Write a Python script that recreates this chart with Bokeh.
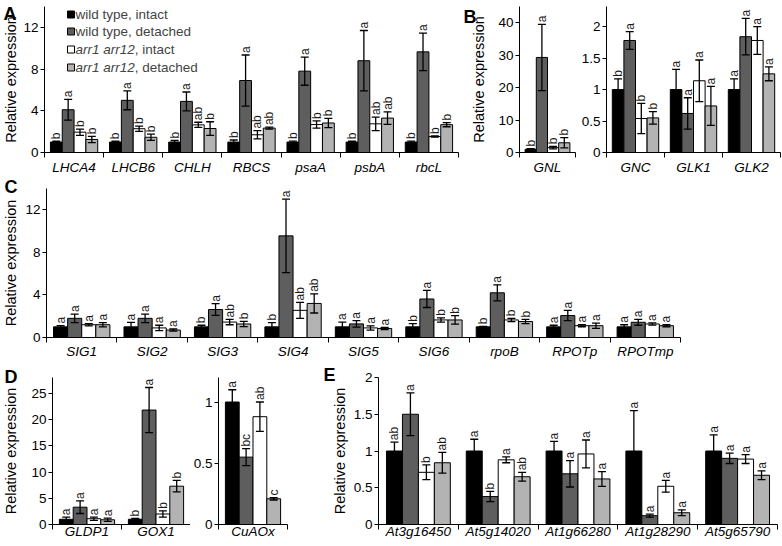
import math
from bokeh.plotting import figure
from bokeh.models import (Range1d, FixedTicker, NumeralTickFormatter, Whisker, TeeHead,
                          ColumnDataSource, Label, BoxAnnotation)
from bokeh.layouts import row, column
from bokeh.embed import file_html
from bokeh.resources import INLINE
from bokeh.core.properties import value

# ---------------- data ----------------
SERIES = ["wild type, intact", "wild type, detached", "arr1 arr12, intact", "arr1 arr12, detached"]

# Panel A
A_genes = ["LHCA4", "LHCB6", "CHLH", "RBCS", "psaA", "psbA", "rbcL"]
A_wt_int = [1.0, 1.0, 1.0, 1.0, 1.0, 1.0, 1.0]
A_wt_int_err = [0.08, 0.08, 0.15, 0.2, 0.1, 0.08, 0.1]
A_wt_det = [4.1, 5.0, 4.9, 6.9, 7.8, 8.8, 9.65]
A_wt_det_err = [1.0, 0.9, 0.9, 2.45, 1.35, 2.9, 1.8]
A_arr_int = [1.95, 2.28, 2.65, 1.7, 2.68, 2.75, 1.53]
A_arr_int_err = [0.3, 0.25, 0.25, 0.4, 0.35, 0.65, 0.05]
A_arr_det = [1.25, 1.46, 2.3, 2.34, 2.83, 3.3, 2.67]
A_arr_det_err = [0.3, 0.3, 0.65, 0.1, 0.45, 0.6, 0.2]
A_sig_wt_int = ["b"] * 7
A_sig_wt_det = ["a"] * 7
A_sig_arr_int = ["b", "b", "ab", "ab", "b", "ab", "b"]
A_sig_arr_det = ["b", "b", "b", "ab", "b", "ab", "b"]

# Panel B (left)
B1_genes = ["GNL"]
B1_wt_int, B1_wt_int_err = [1.0], [0.2]
B1_wt_det, B1_wt_det_err = [29.3], [10.2]
B1_arr_int, B1_arr_int_err = [1.5], [0.4]
B1_arr_det, B1_arr_det_err = [3.0], [1.6]
B1_sig = [["b"], ["a"], ["b"], ["b"]]

# Panel B (right)
B2_genes = ["GNC", "GLK1", "GLK2"]
B2_wt_int, B2_wt_int_err = [1.0, 1.0, 1.0], [0.17, 0.32, 0.17]
B2_wt_det, B2_wt_det_err = [1.78, 0.62, 1.84], [0.14, 0.25, 0.29]
B2_arr_int, B2_arr_int_err = [0.54, 1.14, 1.78], [0.24, 0.33, 0.22]
B2_arr_det, B2_arr_det_err = [0.55, 0.74, 1.25], [0.1, 0.31, 0.11]
B2_sig = [["b", "a", "a"], ["a", "a", "a"], ["b", "a", "a"], ["b", "a", "a"]]

# Panel C
C_genes = ["SIG1", "SIG2", "SIG3", "SIG4", "SIG5", "SIG6", "rpoB", "RPOTp", "RPOTmp"]
C_wt_int = [1.0] * 9
C_wt_int_err = [0.12, 0.42, 0.15, 0.4, 0.45, 0.3, 0.05, 0.15, 0.2]
C_wt_det = [1.8, 1.8, 2.63, 9.55, 1.28, 3.62, 4.2, 2.06, 1.43]
C_wt_det_err = [0.4, 0.4, 0.55, 3.45, 0.3, 0.8, 0.75, 0.48, 0.28]
C_arr_int = [1.2, 0.9, 1.45, 2.55, 0.9, 1.65, 1.65, 1.11, 1.27]
C_arr_int_err = [0.1, 0.25, 0.25, 0.75, 0.2, 0.2, 0.15, 0.1, 0.1]
C_arr_det = [1.2, 0.7, 1.27, 3.2, 0.85, 1.65, 1.5, 1.11, 1.11]
C_arr_det_err = [0.2, 0.1, 0.25, 0.9, 0.1, 0.4, 0.2, 0.25, 0.1]
C_sig = [["a", "a", "b", "b", "a", "b", "b", "a", "a"],
         ["a"] * 9,
         ["a", "a", "ab", "ab", "a", "b", "b", "a", "a"],
         ["a", "a", "b", "ab", "a", "b", "b", "a", "a"]]

# Panel D (left)
D1_genes = ["GLDP1", "GOX1"]
D1_wt_int, D1_wt_int_err = [1.0, 1.0], [0.4, 0.15]
D1_wt_det, D1_wt_det_err = [3.3, 21.8], [1.2, 4.3]
D1_arr_int, D1_arr_int_err = [1.1, 2.0], [0.3, 0.6]
D1_arr_det, D1_arr_det_err = [0.9, 7.3], [0.3, 1.1]
D1_sig = [["a", "b"], ["a", "a"], ["a", "b"], ["a", "b"]]

# Panel D (right)
D2_genes = ["CuAOx"]
D2_wt_int, D2_wt_int_err = [1.0], [0.1]
D2_wt_det, D2_wt_det_err = [0.55], [0.07]
D2_arr_int, D2_arr_int_err = [0.88], [0.12]
D2_arr_det, D2_arr_det_err = [0.21], [0.01]
D2_sig = [["a"], ["bc"], ["ab"], ["c"]]

# Panel E
E_genes = ["At3g16450", "At5g14020", "At1g66280", "At1g28290", "At5g65790"]
E_wt_int, E_wt_int_err = [1.0] * 5, [0.12, 0.16, 0.13, 0.55, 0.22]
E_wt_det, E_wt_det_err = [1.5, 0.38, 0.69, 0.12, 0.9], [0.29, 0.07, 0.18, 0.02, 0.07]
E_arr_int, E_arr_int_err = [0.71, 0.88, 0.96, 0.52, 0.89], [0.1, 0.04, 0.19, 0.08, 0.06]
E_arr_det, E_arr_det_err = [0.84, 0.65, 0.62, 0.16, 0.67], [0.14, 0.06, 0.1, 0.04, 0.06]
E_sig = [["ab", "a", "a", "a", "a"], ["a", "b", "a", "a", "a"],
         ["b", "a", "a", "a", "a"], ["ab", "ab", "a", "a", "a"]]

# ---------------- styling ----------------
FONT = "Liberation Sans"
COLORS = ["#000000", "#5e5e5e", "#ffffff", "#b3b3b3"]
OFFSETS = [-0.3, -0.1, 0.1, 0.3]
BAR_W = 0.2
TOP_PAD = 24   # room above each frame for the panel letter


def make_panel(genes, means, errs, letters, ymax, yticks, width, height, borders,
               ylabel_standoff=None, xstandoff=5, pull_up=0):
    n = len(genes)
    left, right, top, bottom = borders
    p = figure(width=width, height=height, x_range=Range1d(0.5, n + 0.5),
               y_range=Range1d(0, ymax), output_backend="svg", toolbar_location=None,
               min_border_left=left, min_border_right=right,
               min_border_top=top, min_border_bottom=bottom)
    p.margin = (-pull_up, 0, 0, 0)
    p.outline_line_color = None
    p.border_fill_alpha = 0
    p.grid.visible = False
    for s in range(4):
        xs = [i + 1 + OFFSETS[s] for i in range(n)]
        up = [m + e for m, e in zip(means[s], errs[s])]
        lo = [m - e for m, e in zip(means[s], errs[s])]
        src = ColumnDataSource(dict(x=xs, top=means[s], upper=up, lower=lo, lab=letters[s]))
        p.vbar(x="x", top="top", width=BAR_W, source=src, fill_color=COLORS[s],
               line_color="black", line_width=1)
        w = Whisker(source=src, base="x", upper="upper", lower="lower", level="annotation",
                    line_color="black", line_width=1.3,
                    upper_head=TeeHead(size=8, line_color="black", line_width=1.3),
                    lower_head=TeeHead(size=8, line_color="black", line_width=1.3))
        p.add_layout(w)
        p.text(x="x", y="upper", text="lab", source=src, angle=math.pi / 2,
               text_align="left", text_baseline="middle", y_offset=-2,
               text_font=value(FONT), text_font_size="12px", text_color="#1a1a1a")

    yax = p.yaxis[0]
    yax.ticker = FixedTicker(ticks=yticks)
    yax.formatter = NumeralTickFormatter(format="0.[0]")
    yax.major_tick_out = 4
    yax.major_tick_in = 0
    yax.minor_tick_out = 0
    yax.minor_tick_in = 0
    yax.major_label_standoff = 2
    yax.major_label_text_font = FONT
    yax.major_label_text_font_size = "13.5px"
    yax.major_label_text_color = "black"
    yax.axis_line_color = "black"
    if ylabel_standoff is not None:
        yax.axis_label = "Relative expression"
        yax.axis_label_text_font = FONT
        yax.axis_label_text_font_size = "14.5px"
        yax.axis_label_text_font_style = "normal"
        yax.axis_label_text_color = "black"
        yax.axis_label_standoff = ylabel_standoff

    xax = p.xaxis[0]
    xax.ticker = FixedTicker(ticks=[i + 1 for i in range(n)],
                             minor_ticks=[i + 0.5 for i in range(n + 1)])
    xax.major_label_overrides = {i + 1: g for i, g in enumerate(genes)}
    xax.major_tick_out = 0
    xax.major_tick_in = 0
    xax.minor_tick_out = 5
    xax.minor_tick_in = 0
    xax.axis_line_color = "black"
    xax.major_label_standoff = xstandoff
    xax.major_label_text_font = FONT
    xax.major_label_text_font_size = "13.5px"
    xax.major_label_text_font_style = "italic"
    xax.major_label_text_color = "black"
    return p


def panel_letter(p, text, x, y):
    # placed in the "above" side panel so it is not clipped to the frame
    p.add_layout(Label(x=x, y=y, x_units="screen", y_units="screen", text=text,
                       text_font=FONT, text_font_size="18px", text_font_style="bold",
                       text_align="left", text_baseline="top", text_color="black"), "above")


# ---------------- row 1 (layout height 180, canvas pulled up 18) ----------------
pA = make_panel(A_genes, [A_wt_int, A_wt_det, A_arr_int, A_arr_det],
                [A_wt_int_err, A_wt_det_err, A_arr_int_err, A_arr_det_err],
                [A_sig_wt_int, A_sig_wt_det, A_sig_arr_int, A_sig_arr_det],
                14, [0, 4, 8, 12], 462, 198, (42, 4, TOP_PAD, 28),
                ylabel_standoff=1, xstandoff=2, pull_up=18)
panel_letter(pA, "A", -41, 3)

leg_y = [138, 121, 103, 85]
for s in range(4):
    pA.add_layout(BoxAnnotation(left=23, right=30, bottom=leg_y[s] - 3.5, top=leg_y[s] + 3.5,
                                left_units="screen", right_units="screen",
                                top_units="screen", bottom_units="screen",
                                fill_color=COLORS[s], fill_alpha=1, line_color="black",
                                line_alpha=1, line_width=1))
    name = SERIES[s]
    if name.startswith("arr1 arr12"):
        pA.add_layout(Label(x=31, y=leg_y[s], x_units="screen", y_units="screen",
                            text="arr1 arr12", text_font=FONT, text_font_size="13.5px",
                            text_font_style="italic", text_baseline="middle"))
        pA.add_layout(Label(x=31 + 59.3, y=leg_y[s], x_units="screen", y_units="screen",
                            text=name[len("arr1 arr12"):], text_font=FONT,
                            text_font_size="13.5px", text_baseline="middle"))
    else:
        pA.add_layout(Label(x=31, y=leg_y[s], x_units="screen", y_units="screen",
                            text=name, text_font=FONT, text_font_size="13.5px",
                            text_baseline="middle"))

pB1 = make_panel(B1_genes, [B1_wt_int, B1_wt_det, B1_arr_int, B1_arr_det],
                 [B1_wt_int_err, B1_wt_det_err, B1_arr_int_err, B1_arr_det_err],
                 B1_sig, 45, [0, 10, 20, 30, 40], 116, 198, (57, 3, TOP_PAD, 28),
                 ylabel_standoff=8, xstandoff=2, pull_up=18)
panel_letter(pB1, "B", -56, 0)

pB2 = make_panel(B2_genes, [B2_wt_int, B2_wt_det, B2_arr_int, B2_arr_det],
                 [B2_wt_int_err, B2_wt_det_err, B2_arr_int_err, B2_arr_det_err],
                 B2_sig, 2.32, [0, 0.5, 1, 1.5, 2], 204, 198, (27, 2, TOP_PAD, 28),
                 xstandoff=2, pull_up=18)

# ---------------- row 2 (layout height 185, canvas pulled up 16) ----------------
pC = make_panel(C_genes, [C_wt_int, C_wt_det, C_arr_int, C_arr_det],
                [C_wt_int_err, C_wt_det_err, C_arr_int_err, C_arr_det_err],
                C_sig, 14, [0, 4, 8, 12], 782, 201, (43, 102, TOP_PAD, 28),
                ylabel_standoff=3, xstandoff=1, pull_up=16)
panel_letter(pC, "C", -42, 12)

# ---------------- row 3 (layout height 181, canvas pulled up 12) ----------------
pD1 = make_panel(D1_genes, [D1_wt_int, D1_wt_det, D1_arr_int, D1_arr_det],
                 [D1_wt_int_err, D1_wt_det_err, D1_arr_int_err, D1_arr_det_err],
                 D1_sig, 28, [0, 5, 10, 15, 20, 25], 190, 193, (49, 0, TOP_PAD, 22),
                 ylabel_standoff=9, xstandoff=-6, pull_up=12)
panel_letter(pD1, "D", -48, 11)

pD2 = make_panel(D2_genes, [D2_wt_int, D2_wt_det, D2_arr_int, D2_arr_det],
                 [D2_wt_int_err, D2_wt_det_err, D2_arr_int_err, D2_arr_det_err],
                 D2_sig, 1.2, [0, 0.5, 1], 131, 193, (25, 34, TOP_PAD, 22),
                 xstandoff=-6, pull_up=12)

pE = make_panel(E_genes, [E_wt_int, E_wt_det, E_arr_int, E_arr_det],
                [E_wt_int_err, E_wt_det_err, E_arr_int_err, E_arr_det_err],
                E_sig, 2.0, [0, 0.5, 1, 1.5, 2], 461, 193, (57, 5, TOP_PAD, 22),
                ylabel_standoff=3, xstandoff=-6, pull_up=12)
panel_letter(pE, "E", -55, 13)

layout = column(row(pA, pB1, pB2), pC, row(pD1, pD2, pE))

open("out.html", "w").write(file_html(layout, INLINE))
